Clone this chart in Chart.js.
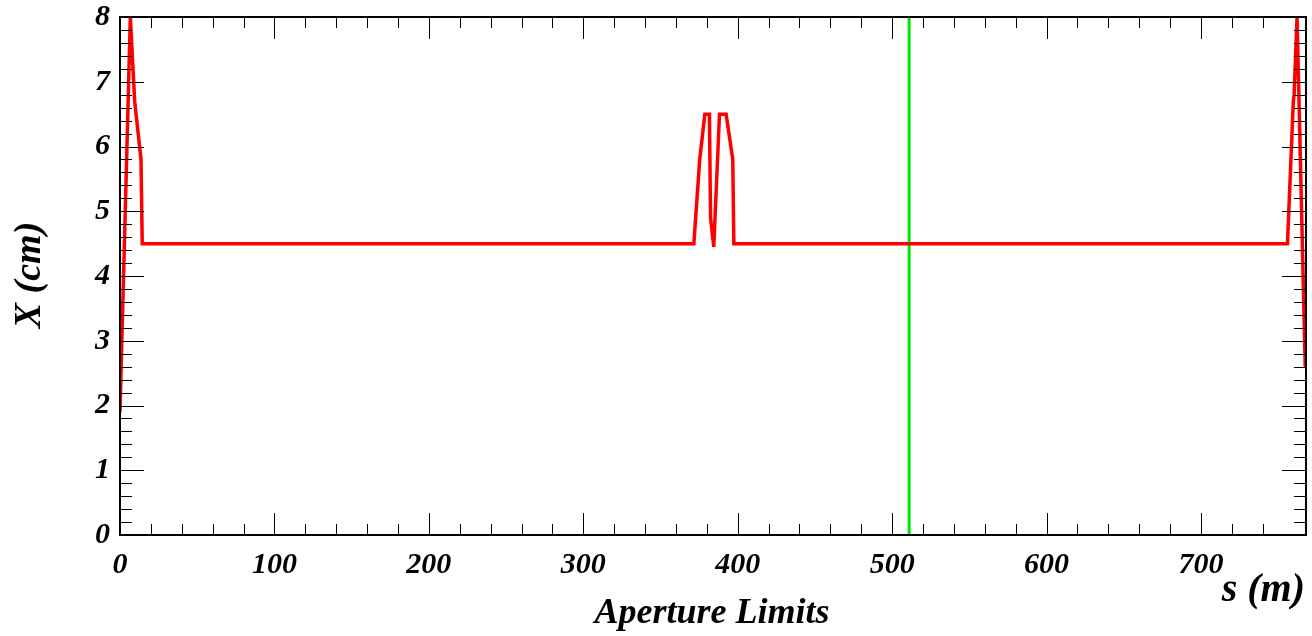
<!DOCTYPE html>
<html>
<head>
<meta charset="utf-8">
<script src="https://cdn.jsdelivr.net/npm/chart.js@4.4.1/dist/chart.umd.min.js"></script>
<style>
  html, body { margin: 0; padding: 0; background: #ffffff; }
  #wrap { width: 1312px; height: 636px; }
</style>
</head>
<body>
<div id="wrap"><canvas id="myChart" width="1312" height="636"></canvas></div>
<script>
// aperture limit (red) - s position in m, X in cm
var sPos = [0, 6.7, 9.5, 13.6, 14.4, 371.6, 375.4, 378.7, 381.7, 382.4, 384.5, 388.2, 392.5, 396.8, 397.5, 756, 759.8, 760.3, 762.2, 767.5];
var xAper = [1.9, 8.0, 6.7, 5.8, 4.5, 4.5, 5.8, 6.5, 6.5, 4.9, 4.45, 6.5, 6.5, 5.8, 4.5, 4.5, 6.7, 6.8, 8.0, 2.6];

// green marker line
var markS = [511, 511];
var markX = [0, 8];

// axes
var sMin = 0, sMax = 768;
var xMin = 0, xMax = 8;
var sLabels = [0, 100, 200, 300, 400, 500, 600, 700];
var xLabels = [0, 1, 2, 3, 4, 5, 6, 7, 8];

var fontFam = '"Liberation Serif", "Times New Roman", serif';

function toPts(a, b) {
  var out = [];
  for (var i = 0; i < a.length; i++) out.push({x: a[i], y: b[i]});
  return out;
}

// ticks drawn inward on all four sides + frame + axis titles
var rootStyle = {
  id: 'rootStyle',
  beforeDraw: function(chart) {
    var c = chart.ctx;
    c.save();
    c.fillStyle = '#ffffff';
    c.fillRect(0, 0, chart.width, chart.height);
    c.restore();
  },
  afterDraw: function(chart) {
    var c = chart.ctx, a = chart.chartArea;
    var xs = chart.scales.x, ys = chart.scales.y;
    c.save();
    c.strokeStyle = '#000000';
    c.lineWidth = 1;
    c.beginPath();
    xs.ticks.forEach(function(t) {
      if (t.value <= sMin || t.value >= sMax) return;
      var px = Math.round(xs.getPixelForValue(t.value)) + 0.5;
      var len = (Math.abs(t.value % 100) < 1e-6) ? 22 : 11;
      c.moveTo(px, a.bottom); c.lineTo(px, a.bottom - len);
      c.moveTo(px, a.top); c.lineTo(px, a.top + len);
    });
    ys.ticks.forEach(function(t) {
      if (t.value <= xMin + 1e-6 || t.value >= xMax - 1e-6) return;
      var py = Math.round(ys.getPixelForValue(t.value)) + 0.5;
      var len = (Math.abs(t.value - Math.round(t.value)) < 1e-6) ? 24 : 12;
      c.moveTo(a.left, py); c.lineTo(a.left + len, py);
      c.moveTo(a.right, py); c.lineTo(a.right - len, py);
    });
    c.stroke();

    c.lineWidth = 2;
    c.strokeRect(a.left, a.top, a.right - a.left, a.bottom - a.top);

    c.fillStyle = '#000000';
    c.textBaseline = 'alphabetic';
    c.font = 'italic bold 40px ' + fontFam;
    c.textAlign = 'right';
    c.fillText('s (m)', 1305, 601);
    c.font = 'italic bold 36px ' + fontFam;
    c.textAlign = 'center';
    c.fillText('Aperture Limits', 712, 623);

    c.font = 'italic bold 38px ' + fontFam;
    c.translate(40, 275);
    c.rotate(-Math.PI / 2);
    c.textAlign = 'center';
    c.fillText('X (cm)', 0, 0);
    c.restore();
  }
};

var ctx = document.getElementById('myChart').getContext('2d');
var myChart = new Chart(ctx, {
  type: 'scatter',
  data: {
    datasets: [{
      data: toPts(sPos, xAper),
      showLine: true,
      borderColor: 'rgb(255, 0, 0)',
      borderWidth: 3.5,
      pointRadius: 0,
      tension: 0,
      fill: false
    }, {
      data: toPts(markS, markX),
      showLine: true,
      borderColor: 'rgb(0, 230, 0)',
      borderWidth: 3,
      pointRadius: 0,
      fill: false
    }]
  },
  plugins: [rootStyle],
  options: {
    responsive: false,
    animation: false,
    events: [],
    layout: { padding: { top: 17, right: 6, left: 0, bottom: 0 } },
    plugins: {
      legend: { display: false },
      tooltip: { enabled: false }
    },
    scales: {
      x: {
        type: 'linear',
        min: sMin,
        max: sMax,
        afterFit: function(s) { s.height = 101; s.paddingLeft = 0; s.paddingRight = 0; },
        grid: { display: false, drawTicks: false },
        border: { display: false },
        ticks: {
          stepSize: 20,
          autoSkip: false,
          maxRotation: 0,
          padding: 12,
          color: '#000000',
          font: { family: fontFam, size: 30, style: 'italic', weight: 'bold' },
          callback: function(v) { return sLabels.indexOf(Math.round(v)) >= 0 && Math.abs(v - Math.round(v)) < 1e-6 ? String(Math.round(v)) : ''; }
        }
      },
      y: {
        type: 'linear',
        min: xMin,
        max: xMax,
        afterFit: function(s) { s.width = 120; s.paddingTop = 0; s.paddingBottom = 0; },
        grid: { display: false, drawTicks: false },
        border: { display: false },
        ticks: {
          stepSize: 0.2,
          autoSkip: false,
          padding: 10,
          color: '#000000',
          font: { family: fontFam, size: 30, style: 'italic', weight: 'bold' },
          callback: function(v) {
            var r = Math.round(v);
            return (Math.abs(v - r) < 1e-6 && xLabels.indexOf(r) >= 0) ? String(r) : '';
          }
        }
      }
    }
  }
});
</script>
</body>
</html>
